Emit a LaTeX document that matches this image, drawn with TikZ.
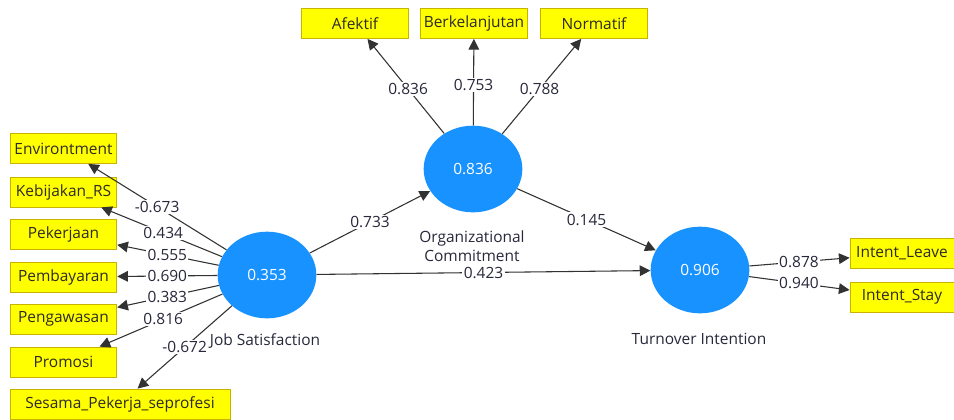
\documentclass[tikz,border=0pt]{standalone}
\usepackage{fontspec}
\setmainfont{Open Sans}
\usetikzlibrary{shapes.geometric,arrows.meta}
\definecolor{latentblue}{RGB}{24,146,255}
\definecolor{boxyellow}{RGB}{255,255,0}
\definecolor{boxedge}{RGB}{200,180,0}
\definecolor{edgegray}{RGB}{50,50,50}
\definecolor{labeltext}{RGB}{40,40,60}
\begin{document}
\begin{tikzpicture}[x=0.75pt,y=-0.75pt,
  font=\fontsize{11.6}{13}\selectfont,
  indicator/.style={draw=boxedge,fill=boxyellow,line width=0.6pt,rectangle,
    minimum width=80pt,minimum height=22.5pt,inner sep=0pt,text=black!90!olive},
  latent/.style={ellipse,fill=latentblue,draw=none,minimum width=74pt,
    minimum height=65pt,inner sep=0pt,text=white},
  link/.style={draw=edgegray,line width=0.8pt,-{Triangle[length=8pt,width=8pt]}},
  coef/.style={fill=white,inner sep=1pt,text=labeltext},
  caption/.style={text=labeltext,align=center}]
\useasboundingbox[fill=white] (0,0) rectangle (954,419);

% latent constructs
\node[latent] (js) at (267,275) {0.353};
\node[latent] (oc) at (473,169) {0.836};
\node[latent] (ti) at (700,270) {0.906};

\node[caption] (jscap) at (265,341) {Job Satisfaction};
\node[caption,font=\fontsize{11.6}{13.8}\selectfont] (occap) at (472,246) {Organizational\\Commitment};
\node[caption] (ticap) at (699,339) {Turnover Intention};

% indicators of Job Satisfaction
\node[indicator] (env)  at (63.5,148.5) {Environtment};
\node[indicator] (keb)  at (63.5,192)   {Kebijakan\_RS};
\node[indicator] (pek)  at (63.5,234)   {Pekerjaan};
\node[indicator] (pem)  at (63.5,277)   {Pembayaran};
\node[indicator] (peng) at (63.5,319)   {Pengawasan};
\node[indicator] (prom) at (63.5,362)   {Promosi};
\node[indicator,minimum width=165pt] (ses) at (120,404) {Sesama\_Pekerja\_seprofesi};

% indicators of Organizational Commitment
\node[indicator] (afe) at (355,23.5) {Afektif};
\node[indicator] (ber) at (474,23.5) {Berkelanjutan};
\node[indicator] (nor) at (594,23.5) {Normatif};

% indicators of Turnover Intention
\node[indicator,minimum width=78pt] (il) at (902,253.5) {Intent\_Leave};
\node[indicator,minimum width=78pt] (is) at (902,297)   {Intent\_Stay};

% outer loadings
\foreach \tgt/\val/\p in {env/-0.673/0.54, keb/0.434/0.51, pek/0.555/0.49,
    pem/0.690/0.49, peng/0.383/0.49, prom/0.816/0.51, ses/-0.672/0.56}{
  \draw[link] (js) -- (\tgt);
  \path (js.center) -- (\tgt.center) node[coef,pos=\p] {\val};
}
\foreach \tgt/\val/\p in {afe/0.836/0.55, ber/0.753/0.58, nor/0.788/0.55}{
  \draw[link] (oc) -- (\tgt);
  \path (oc.center) -- (\tgt.center) node[coef,pos=\p] {\val};
}
\foreach \tgt/\val in {il/0.878, is/0.940}{
  \draw[link] (ti) -- (\tgt);
  \path (ti.center) -- (\tgt.center) node[coef,pos=0.49] {\val};
}

% structural paths
\draw[link] (js) -- (oc);
\path (js.center) -- (oc.center) node[coef,midway] {0.733};
\draw[link] (oc) -- (ti);
\path (oc.center) -- (ti.center) node[coef,midway] {0.145};
\draw[link] (js) -- (ti);
\path (js.center) -- (ti.center) node[coef,midway] {0.423};
\end{tikzpicture}
\end{document}
